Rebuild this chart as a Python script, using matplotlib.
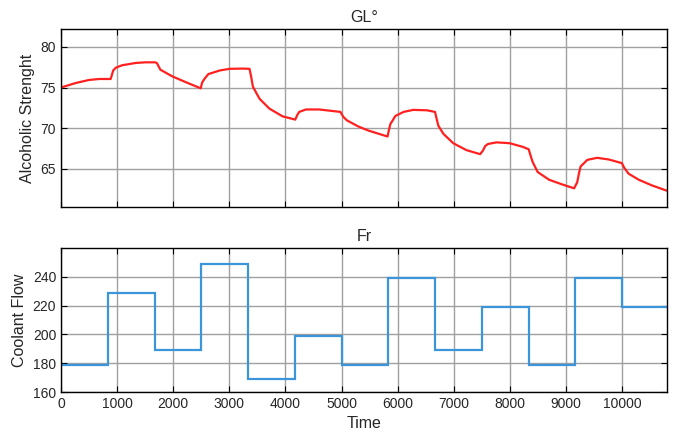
import numpy as np
import matplotlib.pyplot as plt

plt.rcParams['font.family'] = ['Liberation Sans', 'DejaVu Sans']

# alcoholic strength
gl_time = [0, 265, 500, 680, 885, 905, 930, 980, 1090, 1330, 1505, 1680, 1710,
           1770, 1975, 2210, 2490, 2515, 2550, 2625, 2830, 3005, 3240, 3360,
           3390, 3420, 3540, 3715, 3950, 4175, 4210, 4245, 4365, 4600, 4980,
           5030, 5095, 5300, 5480, 5820, 5845, 5870, 5960, 6105, 6280, 6520,
           6665, 6700, 6725, 6815, 6990, 7225, 7470, 7520, 7560, 7610, 7760,
           7995, 8230, 8335, 8370, 8405, 8495, 8700, 8935, 9145, 9200, 9230,
           9260, 9380, 9555, 9760, 9995, 10040, 10115, 10295, 10530, 10800]
gl_value = [75.0, 75.56, 75.93, 76.05, 76.05, 76.5, 77.1, 77.45, 77.74, 78.02,
            78.1, 78.1, 78.0, 77.2, 76.4, 75.7, 74.9, 75.6, 76.0, 76.65, 77.1,
            77.3, 77.33, 77.3, 76.3, 75.1, 73.6, 72.4, 71.45, 71.05, 71.6, 72.0,
            72.3, 72.3, 72.0, 71.4, 70.96, 70.2, 69.7, 68.97, 69.8, 70.5, 71.5,
            72.0, 72.25, 72.2, 72.0, 71.0, 70.3, 69.3, 68.15, 67.3, 66.8, 67.25,
            67.8, 68.05, 68.25, 68.15, 67.7, 67.4, 66.6, 65.85, 64.6, 63.65,
            63.07, 62.6, 63.35, 64.4, 65.28, 66.1, 66.35, 66.15, 65.7, 65.1,
            64.4, 63.66, 62.96, 62.3]

# coolant flow steps
fr_edges = [0, 833, 1667, 2500, 3333, 4167, 5000, 5833, 6667, 7500, 8333,
            9167, 10000, 10800]
fr_value = [179, 229, 189, 249, 169, 199, 179, 239, 189, 219, 179, 239, 219]

fig = plt.figure(figsize=(6.78, 4.40), dpi=100)
ax1 = fig.add_axes([61/678, 1-207/440, 606/678, 178/440])
ax2 = fig.add_axes([61/678, 1-392/440, 606/678, 144/440])

ax1.plot(gl_time, gl_value, color='#ff2020', lw=1.6)
ax2.stairs(fr_value, fr_edges, color='#3d95d9', lw=1.6, baseline=None)

for ax in (ax1, ax2):
    ax.set_xlim(0, 10800)
    ax.set_xticks(np.arange(0, 10001, 1000))
    ax.grid(True, color='#a0a0a0', lw=1.0)
    ax.set_axisbelow(True)
    ax.tick_params(direction='in', top=True, right=True, length=4,
                   labelsize=10, colors='black', labelcolor='#262626', width=0.8)
    for s in ax.spines.values():
        s.set_linewidth(1.0)

ax1.set_ylim(60.3, 82.2)
ax1.set_yticks([65, 70, 75, 80])
ax1.tick_params(labelbottom=False)
ax1.set_title('GL°', fontsize=11.5, color='#262626', pad=5)
ax1.set_ylabel('Alcoholic Strenght', fontsize=11.5, color='#262626')

ax2.set_ylim(160, 260)
ax2.set_yticks([160, 180, 200, 220, 240])
ax2.set_title('Fr', fontsize=11.5, color='#262626', pad=5)
ax2.set_ylabel('Coolant Flow', fontsize=11.5, color='#262626')
ax2.set_xlabel('Time', fontsize=11.5, color='#262626')

fig.savefig('out.png', dpi=100)
